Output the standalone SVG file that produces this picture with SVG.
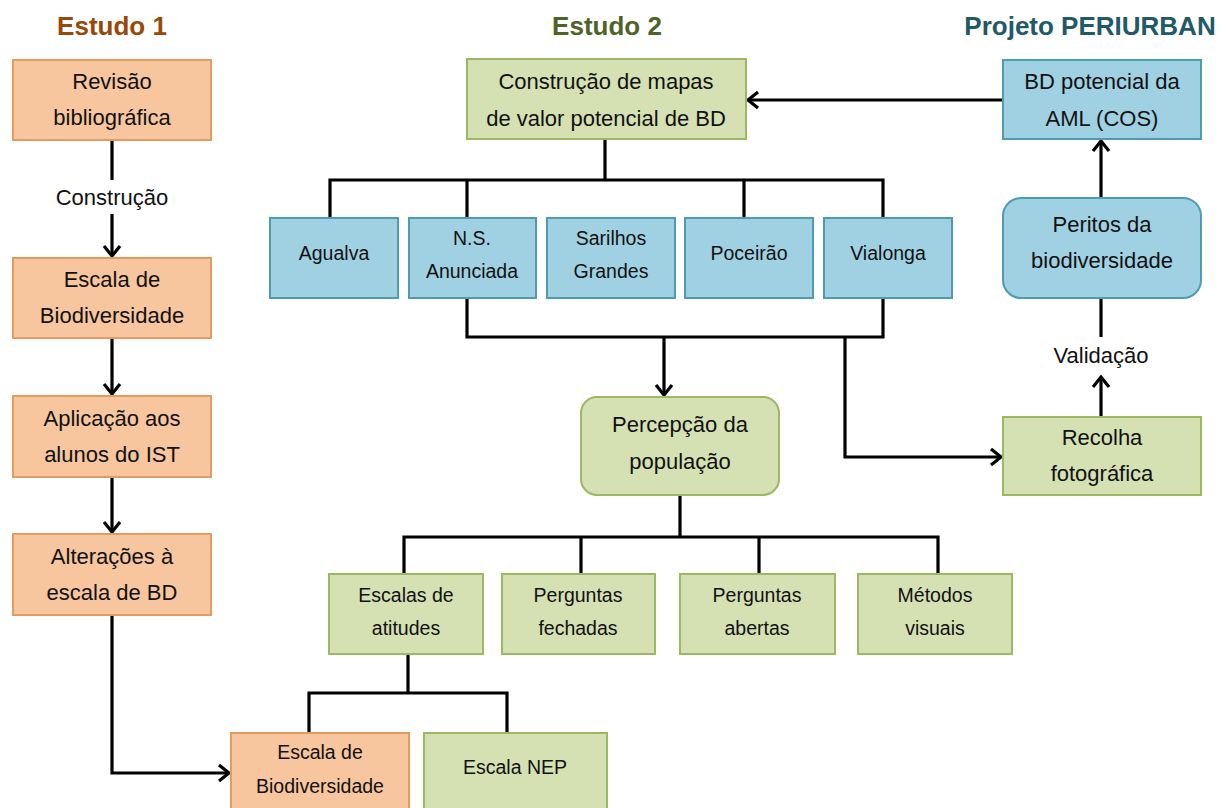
<svg xmlns="http://www.w3.org/2000/svg" width="1229" height="808" viewBox="0 0 1229 808">
<defs>
<style>
.o{fill:#f8c69e;stroke:#e39b5e;stroke-width:2}
.g{fill:#d5e1b3;stroke:#9cb862;stroke-width:2}
.b{fill:#9fd1e3;stroke:#4c9db3;stroke-width:2}
.t{font-family:"Liberation Sans",Arial,sans-serif;font-size:22px;fill:#111;text-anchor:middle}
.s{font-family:"Liberation Sans",Arial,sans-serif;font-size:19.5px;fill:#111;text-anchor:middle}
.h{font-family:"Liberation Sans",Arial,sans-serif;font-size:26px;font-weight:bold;text-anchor:middle}
.c{fill:none;stroke:#000;stroke-width:3.2}
</style>
<marker id="arr" markerUnits="userSpaceOnUse" markerWidth="20" markerHeight="20" viewBox="-12 -10 14 20" refX="0" refY="0" orient="auto">
<path d="M-10,-8 L0,0 L-10,8" fill="none" stroke="#000" stroke-width="3.2"/>
</marker>
</defs>
<rect width="1229" height="808" fill="#fff"/>
<text class="h" x="112" y="35" fill="#984807">Estudo 1</text>
<text class="h" x="607" y="35" fill="#4f6228">Estudo 2</text>
<text class="h" x="1090" y="35" fill="#215968">Projeto PERIURBAN</text>

<g id="connectors">
<path class="c" d="M112,140 V180"/>
<path class="c" d="M112,214 V256" marker-end="url(#arr)"/>
<path class="c" d="M112,338 V394" marker-end="url(#arr)"/>
<path class="c" d="M112,477 V532" marker-end="url(#arr)"/>
<path class="c" d="M112,615 V773 H229" marker-end="url(#arr)"/>
<path class="c" d="M1003,100 H748" marker-end="url(#arr)"/>
<path class="c" d="M605,139 V180 M330,218 V180 H883 V218 M467,180 V218 M744,180 V218"/>
<path class="c" d="M467,298 V337 H883 V298"/>
<path class="c" d="M664,337 V395" marker-end="url(#arr)"/>
<path class="c" d="M845,337 V457 H1001" marker-end="url(#arr)"/>
<path class="c" d="M1101,417 V377" marker-end="url(#arr)"/>
<path class="c" d="M1101,337 V298"/>
<path class="c" d="M1101,198 V141" marker-end="url(#arr)"/>
<path class="c" d="M680,495 V537 M404,574 V537 H938 V574 M581,537 V574 M759,537 V574"/>
<path class="c" d="M408,654 V693 M309,733 V693 H507 V733"/>
<text class="t" x="112" y="205">Construção</text>
<text class="t" x="1101" y="363">Validação</text>
</g>

<g id="revisao"><rect class="o" x="13" y="60" width="198" height="80"/><text class="t" x="112" y="89">Revisão</text><text class="t" x="112" y="125">bibliográfica</text></g>
<g id="escala1"><rect class="o" x="13" y="258" width="198" height="80"/><text class="t" x="112" y="287">Escala de</text><text class="t" x="112" y="323">Biodiversidade</text></g>
<g id="aplicacao"><rect class="o" x="13" y="396" width="198" height="81"/><text class="t" x="112" y="426">Aplicação aos</text><text class="t" x="112" y="462">alunos do IST</text></g>
<g id="alteracoes"><rect class="o" x="13" y="534" width="198" height="81"/><text class="t" x="112" y="564">Alterações à</text><text class="t" x="112" y="600">escala de BD</text></g>

<g id="construcao"><rect class="g" x="467" y="59" width="279" height="80"/><text class="t" x="606" y="89">Construção de mapas</text><text class="t" x="606" y="126">de valor potencial de BD</text></g>
<g id="agualva"><rect class="b" x="270" y="218" width="128" height="80"/><text class="s" x="334" y="260">Agualva</text></g>
<g id="ns"><rect class="b" x="409" y="218" width="127" height="80"/><text class="s" x="472" y="245">N.S.</text><text class="s" x="472" y="278">Anunciada</text></g>
<g id="sarilhos"><rect class="b" x="547" y="218" width="128" height="80"/><text class="s" x="611" y="245">Sarilhos</text><text class="s" x="611" y="278">Grandes</text></g>
<g id="poceirao"><rect class="b" x="685" y="218" width="128" height="80"/><text class="s" x="749" y="260">Poceirão</text></g>
<g id="vialonga"><rect class="b" x="824" y="218" width="128" height="80"/><text class="s" x="888" y="260">Vialonga</text></g>
<g id="percepcao"><rect class="g" x="581" y="397" width="198" height="98" rx="16"/><text class="t" x="680" y="432">Percepção da</text><text class="t" x="680" y="469">população</text></g>
<g id="escalas"><rect class="g" x="329" y="574" width="154" height="80"/><text class="s" x="406" y="602">Escalas de</text><text class="s" x="406" y="635">atitudes</text></g>
<g id="fechadas"><rect class="g" x="502" y="574" width="153" height="80"/><text class="s" x="578" y="602">Perguntas</text><text class="s" x="578" y="635">fechadas</text></g>
<g id="abertas"><rect class="g" x="680" y="574" width="155" height="80"/><text class="s" x="757" y="602">Perguntas</text><text class="s" x="757" y="635">abertas</text></g>
<g id="metodos"><rect class="g" x="858" y="574" width="154" height="80"/><text class="s" x="935" y="602">Métodos</text><text class="s" x="935" y="635">visuais</text></g>
<g id="escala2"><rect class="o" x="231" y="733" width="178" height="80"/><text class="s" x="320" y="759">Escala de</text><text class="s" x="320" y="793">Biodiversidade</text></g>
<g id="nep"><rect class="g" x="424" y="733" width="183" height="80"/><text class="s" x="515" y="774">Escala NEP</text></g>

<g id="bdpotencial"><rect class="b" x="1003" y="60" width="198" height="79"/><text class="t" x="1102" y="89">BD potencial da</text><text class="t" x="1102" y="126">AML (COS)</text></g>
<g id="peritos"><rect class="b" x="1003" y="198" width="198" height="100" rx="18"/><text class="t" x="1102" y="232">Peritos da</text><text class="t" x="1102" y="268">biodiversidade</text></g>
<g id="recolha"><rect class="g" x="1003" y="417" width="198" height="78"/><text class="t" x="1102" y="445">Recolha</text><text class="t" x="1102" y="481">fotográfica</text></g>
</svg>
